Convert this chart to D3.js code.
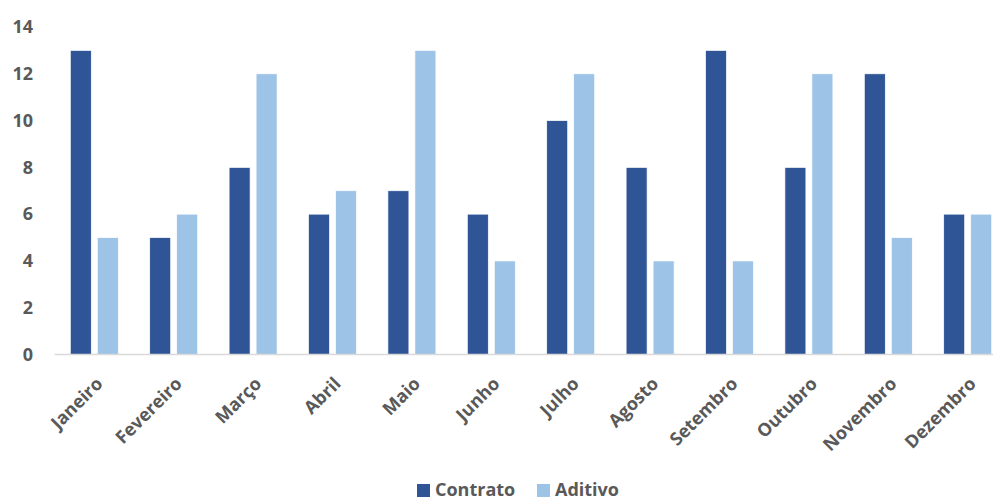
<!DOCTYPE html>
<html><head><meta charset="utf-8">
<script src="https://cdn.jsdelivr.net/npm/d3@7"></script>
<style>body{margin:0;background:#fff}svg{display:block}text{font-family:"Open Sans",sans-serif;font-weight:700;fill:#595959}</style>
</head><body><svg id="c" width="993" height="502"></svg>
<script>
const categories = ["Janeiro","Fevereiro","Março","Abril","Maio","Junho","Julho","Agosto","Setembro","Outubro","Novembro","Dezembro"];
const contrato = [13,5,8,6,7,6,10,8,13,8,12,6];
const aditivo = [5,6,12,7,13,4,12,4,4,12,5,6];
const yTicks = [0,2,4,6,8,10,12,14];
const seriesNames = ["Contrato","Aditivo"];
const colors = ["#2F5597","#9DC3E6"];

const svg = d3.select("#c");
const x = d3.scaleBand().domain(categories).range([54.6, 1007.4]).paddingInner(0).paddingOuter(0);
const y = d3.scaleLinear().domain([0,14]).range([354.5, 27]);
const bw = 21, gap = 6, off = (x.bandwidth() - (2*bw + gap))/2;

const data = [contrato, aditivo];
data.forEach((vals, si) => {
  svg.append("g").selectAll("rect").data(vals).join("rect")
    .attr("x", (d,i) => x(categories[i]) + off + si*(bw+gap))
    .attr("width", bw)
    .attr("y", d => y(d))
    .attr("height", d => y(0) - y(d))
    .attr("fill", colors[si])
    .attr("stroke", "#fff").attr("stroke-width", 0.7);
});

// axis line
svg.append("line").attr("x1", 54.6).attr("x2", 993).attr("y1", y(0)).attr("y2", y(0))
  .attr("stroke", "#D9D9D9").attr("stroke-width", 1.5);

// y labels
svg.append("g").selectAll("text").data(yTicks).join("text")
  .attr("x", 33).attr("y", d => y(d)).attr("dy", "0.35em")
  .attr("text-anchor", "end").attr("font-size", 18).text(d => d);

// x labels
svg.append("g").selectAll("text").data(categories).join("text")
  .attr("transform", d => `translate(${x(d) + x.bandwidth()/2 + 5},${y(0) + 26}) rotate(-45)`)
  .attr("text-anchor", "end").attr("dy", "0.35em").attr("font-size", 18).text(d => d);

// legend
const leg = [{n: seriesNames[0], c: colors[0], x: 417}, {n: seriesNames[1], c: colors[1], x: 537}];
const lg = svg.append("g");
leg.forEach(l => {
  lg.append("rect").attr("x", l.x).attr("y", 484).attr("width", 13).attr("height", 13).attr("fill", l.c);
  lg.append("text").attr("x", l.x + 18).attr("y", 496).attr("font-size", 18).text(l.n);
});
</script></body></html>
